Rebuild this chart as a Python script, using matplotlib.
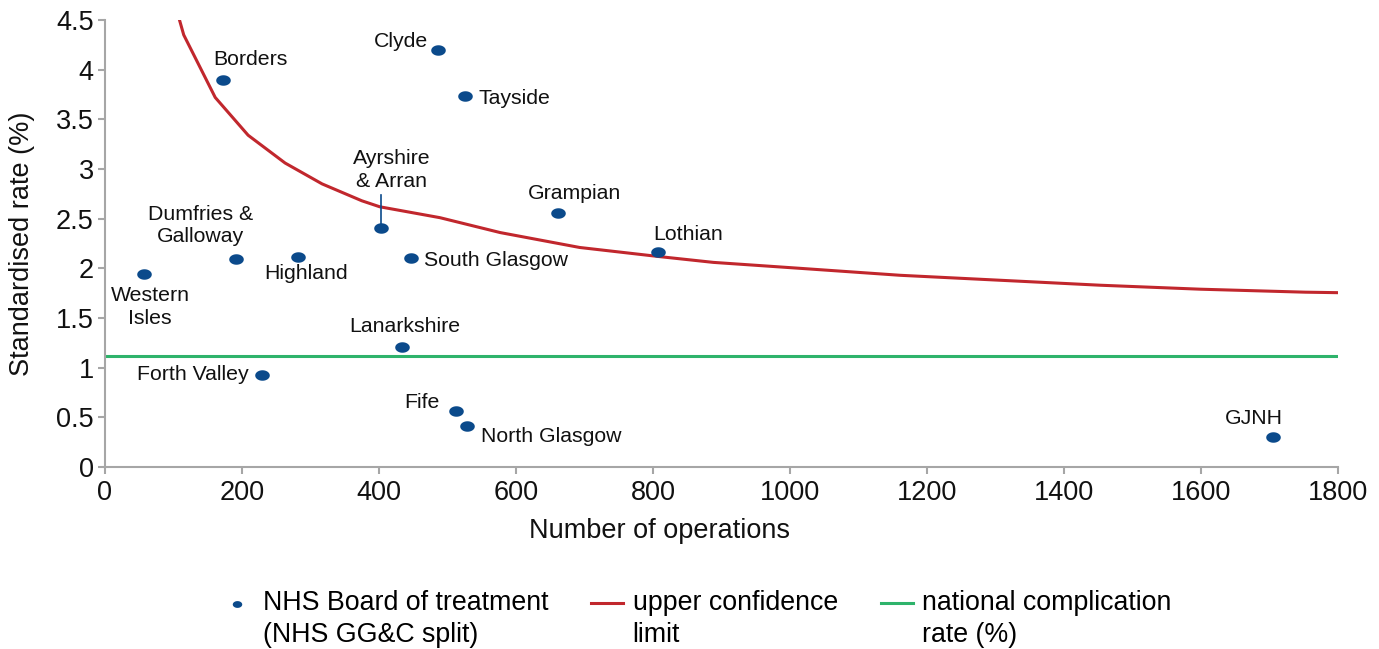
import numpy as np
import matplotlib
matplotlib.use("Agg")
import matplotlib.pyplot as plt
from matplotlib.path import Path
from matplotlib.legend_handler import HandlerLine2D

plt.rcParams['font.family'] = ['Liberation Sans', 'DejaVu Sans']

# NHS boards: number of operations, standardised rate (%)
boards = ['Western\nIsles', 'Dumfries &\nGalloway', 'Borders', 'Forth Valley', 'Highland',
          'Ayrshire\n& Arran', 'Lanarkshire', 'South Glasgow', 'Clyde', 'Fife', 'Tayside',
          'North Glasgow', 'Grampian', 'Lothian', 'GJNH']
ops = [57, 191, 172, 229, 282, 403, 434, 447, 486, 512, 525, 528, 661, 807, 1705]
rate = [1.94, 2.09, 3.90, 0.93, 2.11, 2.41, 1.21, 2.10, 4.20, 0.56, 3.73, 0.41, 2.56, 2.16, 0.30]

# label positions (x, y, alignment)
label_x = [66, 140, 212, 210, 293, 419, 438, 466, 472, 489, 545, 549, 686, 851, 1677]
label_y = [1.61, 2.43, 4.10, 0.93, 1.95, 2.99, 1.41, 2.08, 4.28, 0.65, 3.71, 0.31, 2.75, 2.34, 0.49]
label_ha = ['center', 'center', 'center', 'right', 'center', 'center', 'center', 'left',
            'right', 'right', 'left', 'left', 'center', 'center', 'center']

# upper confidence limit curve
ucl_x = [108, 115, 161, 209, 263, 317, 375, 401, 489, 577, 693, 807, 888, 1015,
         1161, 1307, 1453, 1599, 1752, 1800]
ucl_y = [4.52, 4.35, 3.72, 3.34, 3.06, 2.85, 2.68, 2.62, 2.51, 2.36, 2.21, 2.12, 2.06, 2.00,
         1.93, 1.88, 1.83, 1.79, 1.76, 1.755]

national_rate = 1.12

blue = '#0B4A8B'
red = '#C1272D'
green = '#2EB36B'
grey = '#A6A6A6'


# legend line handle sitting on the first text line
class FirstLineHandler(HandlerLine2D):
    def adjust_drawing_area(self, *args):
        xd, yd, w, h = super().adjust_drawing_area(*args)
        return xd, yd - 24, w, h


# slightly flattened dot
t = np.linspace(0, 2 * np.pi, 60)
ellipse = Path(np.column_stack([np.cos(t), 0.72 * np.sin(t)]), closed=True)

fig = plt.figure(figsize=(13.79, 6.49), dpi=100)
ax = fig.add_axes([0.0761, 0.2804, 0.8942, 0.6888])

green_line = ax.axhline(national_rate, color=green, lw=2.2, label='national complication\nrate (%)', zorder=2)
red_line, = ax.plot(ucl_x, ucl_y, color=red, lw=2.2, label='upper confidence\nlimit', zorder=2)
dots = ax.scatter(ops, rate, marker=ellipse, s=110, color=blue, lw=0, zorder=3,
                  label='NHS Board of treatment\n(NHS GG&C split)')

for name, lx, ly, ha in zip(boards, label_x, label_y, label_ha):
    ax.text(lx, ly, name, ha=ha, va='center', fontsize=15.3, linespacing=1.25, color='#111111')

# leader line for Ayrshire & Arran
ax.plot([ops[5], ops[5]], [rate[5], 2.74], color=blue, lw=1.2, zorder=2)

ax.set_xlim(0, 1800)
ax.set_ylim(0, 4.5)
ax.set_xticks(np.arange(0, 1801, 200))
ax.set_yticks(np.arange(0, 4.51, 0.5))
ax.set_yticklabels(['0', '0.5', '1', '1.5', '2', '2.5', '3', '3.5', '4', '4.5'])
for s in ['top', 'right']:
    ax.spines[s].set_visible(False)
for s in ['left', 'bottom']:
    ax.spines[s].set_color(grey)
    ax.spines[s].set_linewidth(1.5)
ax.tick_params(colors=grey, labelcolor='#111111', labelsize=19.5, length=5, width=1.5)
ax.tick_params(axis='x', pad=4)
ax.tick_params(axis='y', pad=3)
ax.set_xlabel('Number of operations', fontsize=19.5, labelpad=10, color='#111111')
ax.xaxis.set_label_coords(0.45, -0.115)
ax.set_ylabel('Standardised rate (%)', fontsize=19.5, color='#111111')
ax.yaxis.set_label_coords(-0.057, 0.50)

leg = fig.legend([dots, red_line, green_line],
                 [dots.get_label(), red_line.get_label(), green_line.get_label()],
                 loc='lower center', bbox_to_anchor=(0.505, -0.036), ncol=3, frameon=False,
                 fontsize=19.3, handlelength=1.2, handletextpad=0.35, columnspacing=1.6,
                 markerscale=0.65, scatteryoffsets=[1.35],
                 handler_map={red_line: FirstLineHandler(), green_line: FirstLineHandler()})
for txt in leg.get_texts():
    txt.set_linespacing(1.3)

fig.savefig('out.png', dpi=100)
